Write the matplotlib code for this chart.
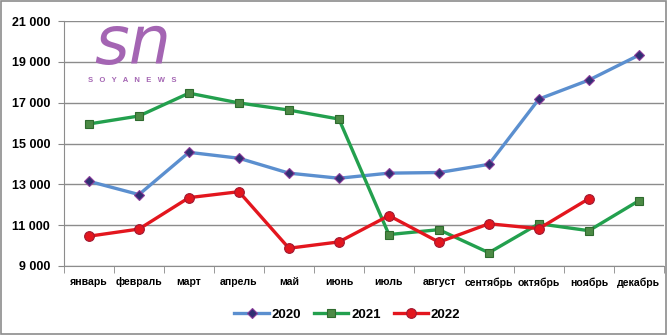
import matplotlib.pyplot as plt
from matplotlib.patches import Rectangle
from matplotlib.ticker import FuncFormatter, FixedLocator

plt.rcParams["font.family"] = ["Liberation Sans", "DejaVu Sans"]

months = ["январь", "февраль", "март", "апрель", "май", "июнь",
          "июль", "август", "сентябрь", "октябрь", "ноябрь", "декабрь"]
y2020 = [13150, 12500, 14570, 14280, 13550, 13300, 13550, 13580, 13980, 17180, 18110, 19330]
y2021 = [15960, 16350, 17470, 16990, 16640, 16200, 10540, 10780, 9650, 11070, 10730, 12200]
y2022 = [10460, 10810, 12350, 12640, 9870, 10180, 11470, 10170, 11070, 10830, 12300]

fig = plt.figure(figsize=(6.68, 3.35), dpi=100)
ax = fig.add_axes([0.0958, 0.206, 0.898, 0.731])

x = list(range(len(months)))
ax.plot(x, y2020, color="#5b8fcf", lw=2.4, marker="D", ms=5.5,
        mfc="#2f2f72", mec="#8a3d9a", mew=0.8, label="2020", zorder=3)
ax.plot(x, y2021, color="#23a04e", lw=2.4, marker="s", ms=5.5,
        mfc="#4c8a45", mec="#2e6b2e", mew=0.8, label="2021", zorder=3)
ax.plot(x[:len(y2022)], y2022, color="#e3161e", lw=2.4, marker="o", ms=7,
        mfc="#e3161e", mec="#a01830", mew=0.8, label="2022", zorder=4)

ax.set_xlim(-0.5, 11.5)
ax.set_ylim(9000, 21000)
ax.set_yticks(range(9000, 21001, 2000))
ax.yaxis.set_major_formatter(FuncFormatter(lambda v, p: f"{int(v):,}".replace(",", " ")))
ax.set_xticks(x)
ax.set_xticklabels(months)
ax.xaxis.set_minor_locator(FixedLocator([i + 0.5 for i in range(-1, 12)]))
ax.tick_params(axis="x", which="major", length=0, pad=8)
ax.tick_params(axis="x", which="minor", length=5, color="#888888")
ax.tick_params(axis="y", length=4, color="#888888", pad=6)
for lab in ax.get_xticklabels():
    lab.set_fontsize(7.6)
    lab.set_fontweight("bold")
for lab in ax.get_yticklabels():
    lab.set_fontsize(9)
    lab.set_fontweight("bold")
ax.grid(axis="y", color="#8c8c8c", lw=1)
ax.set_axisbelow(True)
for s in ["top", "right"]:
    ax.spines[s].set_visible(False)
for s in ["left", "bottom"]:
    ax.spines[s].set_color("#8c8c8c")

fig.legend(loc="center", bbox_to_anchor=(0.52, 0.06), ncol=3, frameon=False,
           prop={"size": 9.5, "weight": "bold"}, handlelength=2.6,
           columnspacing=1.0, handletextpad=0.2)

# logo
fig.text(0.198, 0.808, "sn", fontsize=48, color="#a465b3", style="oblique",
         family="DejaVu Sans", ha="center", va="baseline")
fig.text(0.198, 0.759, "S   O   Y   A   N   E   W   S", fontsize=5.5, color="#a465b3",
         fontweight="bold", ha="center", va="center")

fig.patches.append(Rectangle((0.002, 0.003), 0.995, 0.994, transform=fig.transFigure,
                             fill=False, ec="#8c8c8c", lw=1.2))

fig.savefig("out.png", dpi=100)
